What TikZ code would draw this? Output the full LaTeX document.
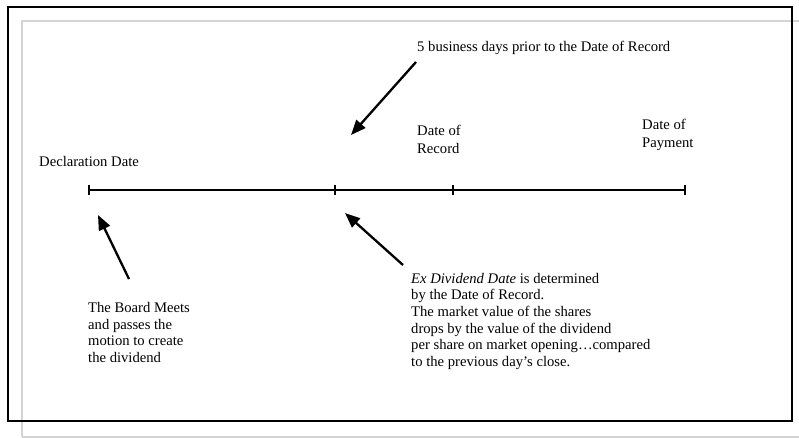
\documentclass[tikz,border=0pt]{standalone}
\usepackage{fontspec}
\setmainfont{Liberation Serif}
\usetikzlibrary{arrows.meta}
\begin{document}
\begin{tikzpicture}[x=1pt,y=-1pt,
  txt/.style={inner sep=0pt, anchor=base west, align=left, font=\fontsize{14.65}{16.7}\selectfont},
  tickmark/.style={draw=none, fill=black, minimum width=2.2pt, minimum height=10pt, inner sep=0pt, outer sep=0pt},
  timeline/.style={line width=2pt},
  bigarrow/.style={line width=2.3pt, -{Triangle[length=15pt,width=12pt]}},
  pageedge/.style={line width=2pt, draw=black!17}]
\useasboundingbox (0,0) rectangle (799,437);
\fill[white] (0,0) rectangle (799,437);
% page edge in background
\draw[pageedge] (799,21) -- (22,21) -- (22,437);
\draw[pageedge] (22,436.5) -- (799,436.5);
% frame
\draw[line width=1.6pt] (8,7) rectangle (792,421);
% timeline ticks
\node[tickmark] (t1) at (89,190) {};
\node[tickmark] (t2) at (335,190) {};
\node[tickmark] (t3) at (453,190) {};
\node[tickmark] (t4) at (685,190) {};
\draw[timeline] (t1.center) -- (t2.center) -- (t3.center) -- (t4.center);
% labels (base = baseline of the last line)
\node[txt] (decl) at (39,166) {Declaration Date};
\node[txt] (five) at (417,51) {5 business days prior to the Date of Record};
\node[txt, font=\fontsize{14.65}{18}\selectfont] (rec) at (417,153.5) {Date of\\Record};
\node[txt, font=\fontsize{14.65}{18}\selectfont] (pay) at (642,147) {Date of\\Payment};
\node[txt, font=\fontsize{14.65}{16.5}\selectfont] (board) at (88,362.2) {The Board Meets\\and passes the\\motion to create\\the dividend};
\node[txt] (exdiv) at (411,366.5) {\emph{Ex Dividend Date} is determined\\by the Date of Record.\\The market value of the shares\\drops by the value of the dividend\\per share on market opening…compared\\to the previous day’s close.};
% arrows
\coordinate (a1s) at (416,62);
\coordinate (a1e) at (351,135);
\coordinate (a2s) at (129,279);
\coordinate (a2e) at (98,215);
\coordinate (a3s) at (403,265);
\coordinate (a3e) at (345,213);
\draw[bigarrow] (a1s) -- (a1e);
\draw[bigarrow] (a2s) -- (a2e);
\draw[bigarrow] (a3s) -- (a3e);
\end{tikzpicture}
\end{document}
